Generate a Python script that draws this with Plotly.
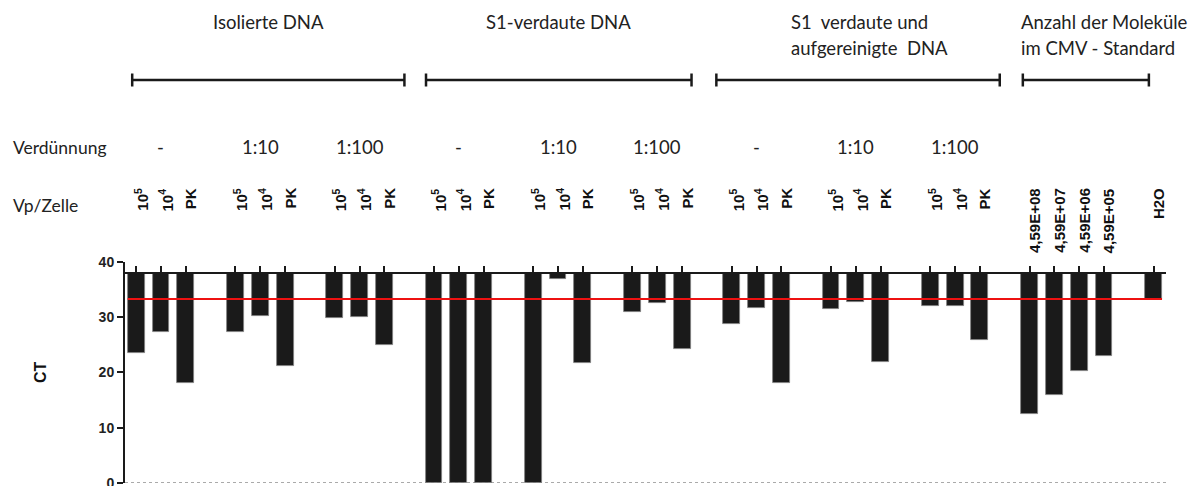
import plotly.graph_objects as go

# ---------------- data ----------------
group_titles = [
    ["Isolierte DNA"],
    ["S1-verdaute DNA"],
    ["S1\u00a0 verdaute und", "aufgereinigte\u00a0 DNA"],
    ["Anzahl der Moleküle", "im CMV - Standard"],
]
dilutions = ["-", "1:10", "1:100"]
vp_labels = ["10<sup>5</sup>", "10<sup>4</sup>", "PK"]
std_labels = ["4,59E+08", "4,59E+07", "4,59E+06", "4,59E+05"]
neg_label = ["H2O"]

ct_isoliert = [23.5, 27.3, 18.0, 27.3, 30.3, 21.2, 29.8, 30.0, 25.0]
ct_s1 = [0.0, 0.0, 0.0, 0.0, 37.0, 21.7, 31.0, 32.6, 24.3]
ct_s1_rein = [28.8, 31.7, 18.1, 31.5, 32.8, 21.9, 32.0, 32.1, 25.8]
ct_standard = [12.5, 16.0, 20.2, 22.9]
ct_h2o = [33.3]

ct_base = 38.0       # bars hang from this CT value
ct_threshold = 33.3  # red cut-off line
y_ticks = [0, 10, 20, 30, 40]

# ---------------- layout helpers ----------------
W, H = 1198, 486
ML, MR, MT, MB = 125, 32, 262, 3
PH = H - MT - MB
PW = W - ML - MR


def py(p):
    """pixel row -> paper y"""
    return (H - MB - p) / PH


def px(p):
    """pixel column -> paper x"""
    return (p - ML) / PW


# build slot positions (gap slot between sub-groups)
xs, labels, vals = [], [], []
dil_x = []
slot = 0
for series in [ct_isoliert, ct_s1, ct_s1_rein]:
    for d in range(3):
        for k in range(3):
            xs.append(slot)
            labels.append(vp_labels[k])
            vals.append(series[3 * d + k])
            if k == 1:
                dil_x.append((slot, dilutions[d]))
            slot += 1
        slot += 1
for lab, v in zip(std_labels, ct_standard):
    xs.append(slot)
    labels.append(lab)
    vals.append(v)
    slot += 1
slot += 1
for lab, v in zip(neg_label, ct_h2o):
    xs.append(slot)
    labels.append(lab)
    vals.append(v)
    slot += 1

BW = 0.68
fig = go.Figure()
fig.add_trace(go.Bar(
    x=xs, y=[v - ct_base for v in vals], base=ct_base, width=BW,
    marker=dict(color="#1a1a1a", line=dict(color="#808080", width=0.8)),
    showlegend=False, hoverinfo="skip",
))

shapes = []
# red threshold line
shapes.append(dict(type="line", xref="x", yref="y", x0=xs[0] - BW / 2, x1=xs[-1] + BW / 2,
                   y0=ct_threshold, y1=ct_threshold, line=dict(color="#ee1111", width=2)))
# dotted zero line
shapes.append(dict(type="line", xref="paper", yref="y", x0=0, x1=1, y0=0, y1=0,
                   line=dict(color="#777777", width=1, dash="dot")))

# group brackets (data x, pixel y)
brackets = [(-0.16, 10.81), (11.68, 22.38), (23.38, 34.8), (35.73, 40.81)]
by = 80
for x0, x1 in brackets:
    shapes.append(dict(type="line", xref="x", yref="paper", x0=x0, x1=x1, y0=py(by), y1=py(by),
                       line=dict(color="#1a1a1a", width=2.5)))
    for xe in (x0, x1):
        shapes.append(dict(type="line", xref="x", yref="paper", x0=xe, x1=xe,
                           y0=py(by - 6.5), y1=py(by + 6.5), line=dict(color="#1a1a1a", width=2.5)))

ann = []
hfont = dict(family="Lato, Open Sans, sans-serif", size=18.5, color="#222222")
rfont = dict(family="Lato, Open Sans, sans-serif", size=17.5, color="#222222")
# headers
head_pos = [(5.32, "center"), (17.0, "center"), (26.3, "left"), (35.56, "left")]
for (hx, anc), lines in zip(head_pos, group_titles):
    for i, t in enumerate(lines):
        ann.append(dict(x=hx, y=py(22 + 26 * i), xref="x", yref="paper", text=t, showarrow=False,
                        xanchor=anc, yanchor="middle", font=hfont))
# row titles
ann.append(dict(x=px(11), y=py(147), xref="paper", yref="paper", text="Verdünnung",
                showarrow=False, xanchor="left", yanchor="middle", font=rfont))
ann.append(dict(x=px(11), y=py(205), xref="paper", yref="paper", text="Vp/Zelle",
                showarrow=False, xanchor="left", yanchor="middle", font=rfont))
for dx, t in dil_x:
    ann.append(dict(x=dx, y=py(147), xref="x", yref="paper", text=t, showarrow=False,
                    xanchor="center", yanchor="middle", font=hfont))
# rotated category labels
for x, t in zip(xs, labels):
    ann.append(dict(x=x, y=py(186), xref="x", yref="paper", text=t, showarrow=False,
                    textangle=-90, xanchor="center", yanchor="top", xshift=5,
                    font=dict(family="Arial, Liberation Sans", size=15, color="#111111", weight="bold")))
# CT axis title
ann.append(dict(x=px(40), y=py(372), xref="paper", yref="paper", text="CT", showarrow=False,
                textangle=-90, xanchor="center", yanchor="middle",
                font=dict(family="Arial, Liberation Sans", size=16, color="#111111", weight="bold")))

fig.update_layout(
    width=W, height=H,
    margin=dict(l=ML, r=MR, t=MT, b=MB, autoexpand=False),
    paper_bgcolor="white", plot_bgcolor="white",
    shapes=shapes, annotations=ann,
    bargap=0,
    xaxis=dict(range=[-0.45, 41.5], side="top", anchor="free", position=(ct_base + 0.02) / 40.02,
               showline=True, linecolor="#1a1a1a", linewidth=2,
               ticks="outside", ticklen=6, tickwidth=1.5, tickcolor="#1a1a1a",
               tickvals=xs, showticklabels=False, showgrid=False, zeroline=False,
               automargin=False),
    yaxis=dict(range=[-0.02, 40], tickvals=y_ticks, showline=True, linecolor="#1a1a1a", linewidth=2,
               ticks="outside", ticklen=6, tickwidth=1.5, tickcolor="#1a1a1a",
               ticklabeloverflow="allow",
               tickfont=dict(family="Arial, Liberation Sans", size=14, color="#222222", weight="bold"),
               showgrid=False, zeroline=False, automargin=False),
)

fig.write_html("out.html")
